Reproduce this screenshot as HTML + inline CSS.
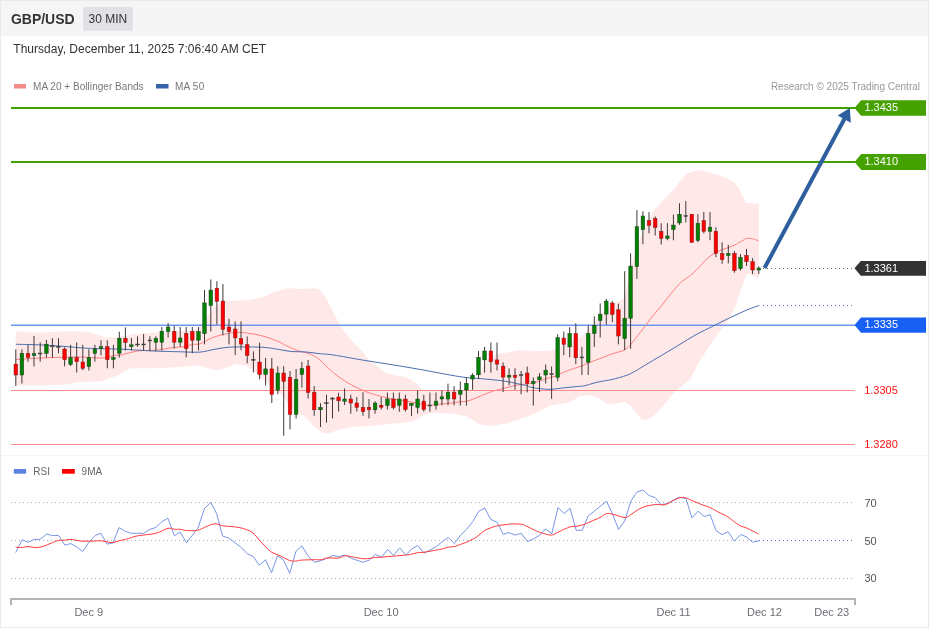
<!DOCTYPE html>
<html><head><meta charset="utf-8"><title>GBP/USD 30 MIN</title>
<style>html,body{margin:0;padding:0;background:#fff;width:929px;height:629px;overflow:hidden}svg{display:block;will-change:transform}</style>
</head><body>
<svg width="929" height="629" viewBox="0 0 929 629" font-family='"Liberation Sans", sans-serif'><rect x="0" y="0" width="929" height="629" fill="#ffffff"/><rect x="0" y="0" width="929" height="36" fill="#f5f5f6"/><rect x="83" y="7" width="50" height="23.6" fill="#dfe1e5"/><text x="10.9" y="24" font-size="14" font-weight="bold" fill="#333333">GBP/USD</text><text x="88.6" y="23" font-size="12" fill="#333333">30 MIN</text><text x="13.3" y="53" font-size="12" fill="#333333" textLength="252.8" lengthAdjust="spacing">Thursday, December 11, 2025 7:06:40 AM CET</text><rect x="14" y="84" width="12" height="4.5" fill="#f48a8a"/><text x="33" y="89.6" font-size="10" fill="#777777" textLength="110.6" lengthAdjust="spacing">MA 20 + Bollinger Bands</text><rect x="156" y="84" width="12.5" height="4.5" fill="#3565a8"/><text x="175" y="89.6" font-size="10" fill="#777777" textLength="29.2" lengthAdjust="spacing">MA 50</text><text x="920" y="90" font-size="10" fill="#999999" text-anchor="end">Research © 2025 Trading Central</text><polygon points="15.8,331.3 28.9,332.2 40.8,332.5 52.7,331.9 65.0,331.3 78.0,331.5 90.0,332.5 100.0,335.5 106.0,337.5 116.0,337.5 135.0,334.0 154.0,332.7 171.5,332.0 193.0,329.9 198.5,328.0 202.7,324.5 208.0,316.0 214.6,307.3 224.3,300.8 236.1,300.8 249.0,299.8 257.6,298.3 266.3,295.5 274.9,291.8 287.8,288.3 300.7,289.0 313.6,288.3 320.0,289.6 326.5,298.7 335.1,315.9 343.8,331.0 352.0,341.0 361.1,350.1 368.4,359.3 377.6,366.6 384.9,372.5 392.2,374.8 403.2,376.7 410.5,379.4 416.0,383.1 421.0,389.0 430.0,391.0 441.0,391.0 455.0,391.0 465.0,390.5 471.5,389.0 473.0,379.5 478.0,378.0 481.0,371.5 484.0,363.0 487.7,359.1 493.4,355.7 500.0,353.4 505.9,352.9 518.6,350.3 535.0,351.0 550.4,350.7 555.9,349.0 563.3,345.0 571.8,342.2 584.5,334.3 592.5,324.7 600.4,315.2 608.4,307.2 616.3,302.5 622.7,299.3 624.7,297.0 630.6,268.0 636.9,247.0 639.7,239.5 646.0,225.0 652.5,212.5 658.2,205.5 663.6,199.7 669.0,194.0 674.7,188.6 679.2,182.4 684.3,175.9 686.2,174.0 693.2,171.2 698.8,170.1 707.2,171.9 717.0,174.7 726.8,178.2 733.8,181.7 738.0,187.3 742.2,195.0 745.7,202.7 752.0,203.4 758.8,203.4 758.8,278.4 753.4,276.0 750.2,274.0 747.0,274.0 740.7,290.0 735.9,305.0 729.8,318.3 719.7,331.0 709.5,346.3 699.3,361.5 691.7,376.8 689.5,380.0 679.8,387.8 673.0,393.6 667.2,401.3 660.4,409.1 653.6,415.9 646.8,419.7 642.0,419.7 635.2,412.0 630.3,405.2 624.5,401.8 617.8,403.3 610.0,404.2 606.1,403.4 598.6,398.1 589.5,395.1 580.5,395.8 574.5,399.6 568.4,402.6 559.4,404.1 550.3,405.6 542.8,409.4 535.3,413.2 520.2,419.2 505.1,423.7 490.1,426.0 480.0,424.4 472.6,419.9 465.1,416.1 453.0,413.8 438.0,413.1 427.4,413.8 421.4,416.1 418.4,419.1 412.3,421.4 400.3,422.9 385.2,424.4 370.1,425.9 355.1,426.6 340.0,429.3 335.8,430.8 330.1,432.9 325.8,433.6 321.5,432.2 317.2,429.3 312.9,425.0 308.6,420.0 303.6,415.7 298.6,413.2 294.3,411.5 287.2,402.2 283.7,396.8 271.3,386.5 256.9,374.0 247.6,366.0 236.4,364.0 228.0,366.9 216.8,370.4 208.4,368.3 200.0,365.5 180.0,367.0 158.0,368.3 130.0,368.3 116.0,376.0 100.0,381.5 78.0,382.3 65.0,384.4 40.8,385.6 15.8,385.6" fill="#ffe8e8"/><line x1="11" y1="108" x2="855" y2="108" stroke="#40a000" stroke-width="2"/><line x1="11" y1="162" x2="855" y2="162" stroke="#40a000" stroke-width="2"/><line x1="11" y1="325.25" x2="855" y2="325.25" stroke="#6a96f5" stroke-width="1.5"/><line x1="11" y1="390.5" x2="855" y2="390.5" stroke="#ff8c8c" stroke-width="1"/><line x1="11" y1="444.5" x2="855" y2="444.5" stroke="#ff8c8c" stroke-width="1"/><path d="M15.8,359.5 C19.5,359.3 30.2,358.6 38.2,358.2 C46.2,357.8 56.6,357.4 63.6,357.2 C70.6,357.0 73.8,356.9 80.0,357.0 C86.2,357.1 95.4,358.2 101.0,358.0 C106.6,357.8 110.5,356.0 113.7,355.5 C116.9,355.0 116.0,355.9 120.0,355.2 C124.0,354.4 131.5,351.9 137.8,351.0 C144.1,350.1 152.3,350.6 158.0,350.0 C163.7,349.4 167.7,348.3 172.2,347.7 C176.7,347.1 181.6,347.1 185.0,346.5 C188.4,345.9 190.4,344.8 192.9,344.4 C195.4,343.9 196.9,344.8 200.0,343.8 C203.1,342.8 207.5,339.7 211.2,338.2 C214.9,336.7 218.2,335.7 222.4,334.7 C226.6,333.7 232.0,332.5 236.4,332.3 C240.8,332.1 244.6,332.7 249.0,333.3 C253.4,333.9 258.3,334.8 263.0,336.1 C267.7,337.4 273.0,339.4 277.0,341.0 C281.0,342.6 283.3,344.3 286.8,345.9 C290.3,347.5 294.3,349.5 298.0,350.8 C301.7,352.1 305.7,352.2 309.2,353.6 C312.7,355.0 314.8,356.0 318.9,359.2 C323.0,362.4 328.8,368.9 333.6,372.9 C338.4,376.8 343.1,380.0 347.9,382.9 C352.7,385.8 357.9,388.2 362.2,390.1 C366.5,392.0 369.9,393.2 373.7,394.4 C377.5,395.6 381.8,396.4 385.0,397.2 C388.2,398.0 389.3,398.4 392.7,399.0 C396.1,399.6 401.1,400.2 405.4,400.9 C409.6,401.6 414.4,402.7 418.2,403.4 C422.0,404.1 425.1,405.1 428.3,405.3 C431.5,405.5 433.6,404.7 437.2,404.3 C440.8,403.9 446.2,403.6 450.0,403.2 C453.8,402.8 457.1,402.2 460.0,401.8 C462.9,401.4 464.3,401.9 467.7,401.0 C471.1,400.1 476.1,397.8 480.4,396.1 C484.6,394.4 488.9,392.4 493.2,391.0 C497.4,389.6 501.7,388.9 505.9,387.9 C510.1,386.8 514.6,385.4 518.6,384.7 C522.6,384.0 526.6,384.3 530.0,383.7 C533.4,383.1 536.1,382.1 539.1,381.2 C542.1,380.2 545.5,378.9 548.3,378.0 C551.0,377.1 553.6,376.8 555.6,376.1 C557.6,375.4 558.4,374.7 560.2,373.9 C562.0,373.1 564.0,372.1 566.6,371.1 C569.2,370.1 573.3,368.7 575.7,367.9 C578.1,367.1 579.1,366.9 581.2,366.1 C583.4,365.3 586.2,363.9 588.6,362.9 C591.0,361.9 593.5,361.0 595.9,360.1 C598.3,359.2 600.9,358.3 603.2,357.4 C605.6,356.5 607.6,355.4 610.0,354.5 C612.4,353.6 615.2,353.1 617.6,352.3 C620.0,351.6 622.5,351.2 624.6,350.0 C626.7,348.8 628.6,346.8 630.4,344.9 C632.2,343.0 633.7,340.6 635.4,338.5 C637.1,336.4 638.7,334.5 640.5,332.2 C642.3,329.9 644.4,327.1 646.3,324.5 C648.2,321.9 649.7,319.8 652.0,316.9 C654.3,314.0 657.5,310.4 660.0,307.4 C662.5,304.4 664.9,301.3 666.7,299.0 C668.6,296.7 669.4,295.4 671.1,293.4 C672.8,291.4 674.8,288.8 676.7,286.8 C678.6,284.8 680.4,282.8 682.3,281.2 C684.1,279.6 685.9,278.7 687.8,277.3 C689.6,275.9 691.5,274.5 693.4,272.8 C695.3,271.1 697.1,269.2 699.0,267.3 C700.9,265.4 702.6,263.1 704.5,261.2 C706.4,259.3 708.1,257.7 710.1,256.2 C712.1,254.7 714.3,253.4 716.4,252.3 C718.5,251.2 720.6,250.3 722.7,249.5 C724.8,248.7 727.2,248.0 729.1,247.3 C731.0,246.6 732.6,246.1 734.2,245.3 C735.8,244.6 737.1,243.6 738.6,242.8 C740.1,242.0 741.8,241.0 743.1,240.3 C744.4,239.6 744.9,238.9 746.2,238.6 C747.5,238.3 749.3,238.3 750.7,238.4 C752.1,238.5 753.2,238.9 754.5,239.3 C755.8,239.7 757.9,240.6 758.6,240.9" fill="none" stroke="#ff8080" stroke-width="1"/><path d="M15.8,344.3 C19.5,344.4 30.8,344.5 38.2,344.8 C45.6,345.1 51.4,345.5 60.0,346.1 C68.7,346.7 80.0,347.9 90.1,348.4 C100.1,348.9 110.2,348.7 120.3,349.1 C130.3,349.5 140.3,350.4 150.4,350.9 C160.5,351.3 172.3,351.6 180.6,351.8 C188.9,352.0 194.4,352.5 200.0,352.1 C205.6,351.7 209.3,350.2 214.0,349.4 C218.7,348.6 223.3,347.7 228.0,347.3 C232.7,346.9 236.2,346.9 242.0,346.9 C247.8,346.9 257.2,346.9 263.0,347.3 C268.8,347.7 272.3,348.4 277.0,349.1 C281.7,349.8 286.3,351.0 291.0,351.5 C295.7,352.0 300.3,351.5 305.0,351.9 C309.7,352.2 314.2,353.1 319.0,353.6 C323.8,354.1 326.4,353.9 333.6,355.0 C340.8,356.1 353.6,358.6 362.2,360.0 C370.8,361.4 375.7,362.1 385.0,363.6 C394.3,365.1 405.7,366.9 418.2,369.1 C430.7,371.3 449.4,375.1 460.0,376.7 C470.6,378.3 474.3,378.0 481.5,378.7 C488.7,379.4 495.8,379.8 503.0,380.9 C510.2,382.0 520.1,384.2 524.6,385.2 C529.1,386.2 527.6,386.6 530.0,387.1 C532.4,387.7 535.6,388.1 539.1,388.5 C542.6,388.9 547.2,389.5 551.0,389.4 C554.8,389.3 557.9,388.4 562.0,388.0 C566.1,387.6 571.9,387.1 575.7,386.7 C579.5,386.3 581.9,386.3 584.9,385.7 C587.9,385.1 591.0,383.8 594.0,383.0 C597.0,382.2 600.2,381.6 603.2,381.0 C606.2,380.4 608.0,380.5 612.0,379.5 C616.0,378.5 623.2,376.6 627.2,375.1 C631.2,373.7 632.9,372.4 635.8,370.8 C638.7,369.2 640.1,368.2 644.4,365.6 C648.7,363.0 656.0,358.7 661.7,355.3 C667.5,351.9 673.2,348.4 678.9,345.0 C684.6,341.6 690.4,337.8 696.1,334.6 C701.8,331.4 707.5,328.9 713.3,326.0 C719.0,323.1 724.9,320.1 730.6,317.4 C736.4,314.7 743.0,311.6 747.8,309.6 C752.6,307.6 757.4,306.1 759.3,305.4" fill="none" stroke="#4a6fb0" stroke-width="1"/><line x1="15.8" y1="349.3" x2="15.8" y2="385.9" stroke="#403838" stroke-width="1"/><rect x="14.0" y="364.1" width="3.6" height="10.9" fill="#ff0000" stroke="#7a2020" stroke-width="0.5"/><line x1="21.9" y1="349.3" x2="21.9" y2="383.6" stroke="#403838" stroke-width="1"/><rect x="20.1" y="353.3" width="3.6" height="21.7" fill="#008000" stroke="#204020" stroke-width="0.5"/><line x1="28.0" y1="344.8" x2="28.0" y2="361.7" stroke="#403838" stroke-width="1"/><rect x="26.2" y="353.3" width="3.6" height="4.4" fill="#ff0000" stroke="#7a2020" stroke-width="0.5"/><line x1="34.0" y1="336.0" x2="34.0" y2="366.4" stroke="#403838" stroke-width="1"/><rect x="32.2" y="353.5" width="3.6" height="2.1" fill="#008000" stroke="#204020" stroke-width="0.5"/><line x1="40.2" y1="342.4" x2="40.2" y2="361.7" stroke="#403838" stroke-width="1"/><rect x="38.4" y="353.0" width="3.6" height="1.0" fill="#444444" stroke="#444444" stroke-width="0.5"/><line x1="46.4" y1="340.0" x2="46.4" y2="357.7" stroke="#403838" stroke-width="1"/><rect x="44.6" y="344.2" width="3.6" height="9.1" fill="#008000" stroke="#204020" stroke-width="0.5"/><line x1="52.4" y1="338.2" x2="52.4" y2="357.9" stroke="#403838" stroke-width="1"/><rect x="50.6" y="345.8" width="3.6" height="1.0" fill="#444444" stroke="#444444" stroke-width="0.5"/><line x1="58.5" y1="338.2" x2="58.5" y2="353.3" stroke="#403838" stroke-width="1"/><rect x="56.7" y="346.3" width="3.6" height="1.0" fill="#444444" stroke="#444444" stroke-width="0.5"/><line x1="64.6" y1="347.4" x2="64.6" y2="366.4" stroke="#403838" stroke-width="1"/><rect x="62.8" y="349.0" width="3.6" height="10.7" fill="#ff0000" stroke="#7a2020" stroke-width="0.5"/><line x1="70.6" y1="344.8" x2="70.6" y2="366.0" stroke="#403838" stroke-width="1"/><rect x="68.8" y="357.5" width="3.6" height="6.8" fill="#008000" stroke="#204020" stroke-width="0.5"/><line x1="76.7" y1="342.4" x2="76.7" y2="372.5" stroke="#403838" stroke-width="1"/><rect x="74.9" y="357.5" width="3.6" height="4.2" fill="#ff0000" stroke="#7a2020" stroke-width="0.5"/><line x1="82.8" y1="344.8" x2="82.8" y2="370.2" stroke="#403838" stroke-width="1"/><rect x="81.0" y="362.0" width="3.6" height="6.3" fill="#ff0000" stroke="#7a2020" stroke-width="0.5"/><line x1="88.9" y1="349.3" x2="88.9" y2="370.5" stroke="#403838" stroke-width="1"/><rect x="87.1" y="357.5" width="3.6" height="9.2" fill="#008000" stroke="#204020" stroke-width="0.5"/><line x1="94.9" y1="344.8" x2="94.9" y2="361.7" stroke="#403838" stroke-width="1"/><rect x="93.1" y="349.0" width="3.6" height="4.3" fill="#008000" stroke="#204020" stroke-width="0.5"/><line x1="101.0" y1="340.3" x2="101.0" y2="355.4" stroke="#403838" stroke-width="1"/><rect x="99.2" y="346.7" width="3.6" height="1.9" fill="#008000" stroke="#204020" stroke-width="0.5"/><line x1="107.3" y1="340.3" x2="107.3" y2="368.3" stroke="#403838" stroke-width="1"/><rect x="105.5" y="346.7" width="3.6" height="13.0" fill="#ff0000" stroke="#7a2020" stroke-width="0.5"/><line x1="113.4" y1="344.8" x2="113.4" y2="368.3" stroke="#403838" stroke-width="1"/><rect x="111.6" y="357.5" width="3.6" height="1.9" fill="#008000" stroke="#204020" stroke-width="0.5"/><line x1="119.3" y1="331.7" x2="119.3" y2="357.5" stroke="#403838" stroke-width="1"/><rect x="117.5" y="338.2" width="3.6" height="15.1" fill="#008000" stroke="#204020" stroke-width="0.5"/><line x1="125.4" y1="327.4" x2="125.4" y2="350.5" stroke="#403838" stroke-width="1"/><rect x="123.6" y="338.4" width="3.6" height="3.9" fill="#ff0000" stroke="#7a2020" stroke-width="0.5"/><line x1="131.4" y1="338.0" x2="131.4" y2="350.5" stroke="#403838" stroke-width="1"/><rect x="129.6" y="344.8" width="3.6" height="1.9" fill="#008000" stroke="#204020" stroke-width="0.5"/><line x1="137.5" y1="336.3" x2="137.5" y2="346.7" stroke="#403838" stroke-width="1"/><rect x="135.7" y="344.0" width="3.6" height="1.0" fill="#444444" stroke="#444444" stroke-width="0.5"/><line x1="143.6" y1="334.0" x2="143.6" y2="350.5" stroke="#403838" stroke-width="1"/><rect x="141.8" y="344.0" width="3.6" height="1.0" fill="#444444" stroke="#444444" stroke-width="0.5"/><line x1="149.9" y1="336.3" x2="149.9" y2="351.0" stroke="#403838" stroke-width="1"/><rect x="148.1" y="340.0" width="3.6" height="1.0" fill="#444444" stroke="#444444" stroke-width="0.5"/><line x1="155.9" y1="336.3" x2="155.9" y2="351.0" stroke="#403838" stroke-width="1"/><rect x="154.1" y="338.4" width="3.6" height="3.9" fill="#008000" stroke="#204020" stroke-width="0.5"/><line x1="161.8" y1="327.0" x2="161.8" y2="350.5" stroke="#403838" stroke-width="1"/><rect x="160.0" y="331.2" width="3.6" height="11.0" fill="#008000" stroke="#204020" stroke-width="0.5"/><line x1="168.1" y1="323.0" x2="168.1" y2="337.6" stroke="#403838" stroke-width="1"/><rect x="166.3" y="327.0" width="3.6" height="4.6" fill="#008000" stroke="#204020" stroke-width="0.5"/><line x1="174.2" y1="325.6" x2="174.2" y2="348.7" stroke="#403838" stroke-width="1"/><rect x="172.4" y="331.3" width="3.6" height="10.9" fill="#ff0000" stroke="#7a2020" stroke-width="0.5"/><line x1="180.2" y1="327.0" x2="180.2" y2="346.7" stroke="#403838" stroke-width="1"/><rect x="178.4" y="338.0" width="3.6" height="4.2" fill="#008000" stroke="#204020" stroke-width="0.5"/><line x1="186.2" y1="327.0" x2="186.2" y2="357.3" stroke="#403838" stroke-width="1"/><rect x="184.4" y="333.6" width="3.6" height="15.1" fill="#ff0000" stroke="#7a2020" stroke-width="0.5"/><line x1="192.3" y1="327.0" x2="192.3" y2="353.2" stroke="#403838" stroke-width="1"/><rect x="190.5" y="331.6" width="3.6" height="8.6" fill="#ff0000" stroke="#7a2020" stroke-width="0.5"/><line x1="198.5" y1="327.0" x2="198.5" y2="350.5" stroke="#403838" stroke-width="1"/><rect x="196.7" y="331.6" width="3.6" height="8.6" fill="#008000" stroke="#204020" stroke-width="0.5"/><line x1="204.5" y1="290.0" x2="204.5" y2="344.4" stroke="#403838" stroke-width="1"/><rect x="202.7" y="302.9" width="3.6" height="30.7" fill="#008000" stroke="#204020" stroke-width="0.5"/><line x1="210.8" y1="279.5" x2="210.8" y2="331.6" stroke="#403838" stroke-width="1"/><rect x="209.0" y="290.1" width="3.6" height="15.4" fill="#008000" stroke="#204020" stroke-width="0.5"/><line x1="216.9" y1="281.3" x2="216.9" y2="324.5" stroke="#403838" stroke-width="1"/><rect x="215.1" y="288.3" width="3.6" height="13.1" fill="#ff0000" stroke="#7a2020" stroke-width="0.5"/><line x1="222.9" y1="284.0" x2="222.9" y2="335.4" stroke="#403838" stroke-width="1"/><rect x="221.1" y="301.0" width="3.6" height="28.3" fill="#ff0000" stroke="#7a2020" stroke-width="0.5"/><line x1="229.0" y1="318.8" x2="229.0" y2="344.4" stroke="#403838" stroke-width="1"/><rect x="227.2" y="327.0" width="3.6" height="4.6" fill="#ff0000" stroke="#7a2020" stroke-width="0.5"/><line x1="235.2" y1="321.4" x2="235.2" y2="355.0" stroke="#403838" stroke-width="1"/><rect x="233.4" y="329.0" width="3.6" height="8.9" fill="#ff0000" stroke="#7a2020" stroke-width="0.5"/><line x1="241.0" y1="321.4" x2="241.0" y2="350.3" stroke="#403838" stroke-width="1"/><rect x="239.2" y="338.5" width="3.6" height="5.6" fill="#ff0000" stroke="#7a2020" stroke-width="0.5"/><line x1="247.2" y1="336.5" x2="247.2" y2="363.3" stroke="#403838" stroke-width="1"/><rect x="245.4" y="344.7" width="3.6" height="10.8" fill="#ff0000" stroke="#7a2020" stroke-width="0.5"/><line x1="253.4" y1="351.3" x2="253.4" y2="372.4" stroke="#403838" stroke-width="1"/><rect x="251.6" y="359.3" width="3.6" height="1.0" fill="#444444" stroke="#444444" stroke-width="0.5"/><line x1="259.6" y1="342.7" x2="259.6" y2="379.3" stroke="#403838" stroke-width="1"/><rect x="257.8" y="362.1" width="3.6" height="12.4" fill="#ff0000" stroke="#7a2020" stroke-width="0.5"/><line x1="265.6" y1="358.0" x2="265.6" y2="385.5" stroke="#403838" stroke-width="1"/><rect x="263.8" y="368.9" width="3.6" height="5.6" fill="#008000" stroke="#204020" stroke-width="0.5"/><line x1="271.8" y1="358.0" x2="271.8" y2="403.0" stroke="#403838" stroke-width="1"/><rect x="270.0" y="368.9" width="3.6" height="25.4" fill="#ff0000" stroke="#7a2020" stroke-width="0.5"/><line x1="277.8" y1="366.2" x2="277.8" y2="394.3" stroke="#403838" stroke-width="1"/><rect x="276.0" y="373.0" width="3.6" height="17.2" fill="#008000" stroke="#204020" stroke-width="0.5"/><line x1="283.7" y1="366.2" x2="283.7" y2="435.7" stroke="#403838" stroke-width="1"/><rect x="281.9" y="373.0" width="3.6" height="8.3" fill="#ff0000" stroke="#7a2020" stroke-width="0.5"/><line x1="290.0" y1="371.0" x2="290.0" y2="429.5" stroke="#403838" stroke-width="1"/><rect x="288.2" y="377.2" width="3.6" height="37.2" fill="#ff0000" stroke="#7a2020" stroke-width="0.5"/><line x1="296.1" y1="369.0" x2="296.1" y2="418.5" stroke="#403838" stroke-width="1"/><rect x="294.3" y="379.3" width="3.6" height="35.1" fill="#008000" stroke="#204020" stroke-width="0.5"/><line x1="301.9" y1="362.0" x2="301.9" y2="387.5" stroke="#403838" stroke-width="1"/><rect x="300.1" y="368.5" width="3.6" height="6.0" fill="#008000" stroke="#204020" stroke-width="0.5"/><line x1="308.1" y1="360.0" x2="308.1" y2="398.5" stroke="#403838" stroke-width="1"/><rect x="306.3" y="366.0" width="3.6" height="26.5" fill="#ff0000" stroke="#7a2020" stroke-width="0.5"/><line x1="314.2" y1="386.1" x2="314.2" y2="415.8" stroke="#403838" stroke-width="1"/><rect x="312.4" y="392.2" width="3.6" height="17.6" fill="#ff0000" stroke="#7a2020" stroke-width="0.5"/><line x1="320.5" y1="403.3" x2="320.5" y2="427.0" stroke="#403838" stroke-width="1"/><rect x="318.7" y="407.3" width="3.6" height="2.5" fill="#008000" stroke="#204020" stroke-width="0.5"/><line x1="326.5" y1="394.7" x2="326.5" y2="422.7" stroke="#403838" stroke-width="1"/><rect x="324.7" y="402.7" width="3.6" height="1.0" fill="#444444" stroke="#444444" stroke-width="0.5"/><line x1="332.5" y1="397.0" x2="332.5" y2="418.4" stroke="#403838" stroke-width="1"/><rect x="330.7" y="398.1" width="3.6" height="1.0" fill="#444444" stroke="#444444" stroke-width="0.5"/><line x1="338.6" y1="392.7" x2="338.6" y2="411.6" stroke="#403838" stroke-width="1"/><rect x="336.8" y="397.0" width="3.6" height="3.8" fill="#ff0000" stroke="#7a2020" stroke-width="0.5"/><line x1="344.6" y1="388.4" x2="344.6" y2="405.1" stroke="#403838" stroke-width="1"/><rect x="342.8" y="399.0" width="3.6" height="2.3" fill="#008000" stroke="#204020" stroke-width="0.5"/><line x1="350.8" y1="394.7" x2="350.8" y2="413.7" stroke="#403838" stroke-width="1"/><rect x="349.0" y="399.0" width="3.6" height="4.0" fill="#ff0000" stroke="#7a2020" stroke-width="0.5"/><line x1="356.8" y1="397.0" x2="356.8" y2="411.6" stroke="#403838" stroke-width="1"/><rect x="355.0" y="403.0" width="3.6" height="4.3" fill="#ff0000" stroke="#7a2020" stroke-width="0.5"/><line x1="363.0" y1="392.2" x2="363.0" y2="415.8" stroke="#403838" stroke-width="1"/><rect x="361.2" y="407.3" width="3.6" height="4.3" fill="#ff0000" stroke="#7a2020" stroke-width="0.5"/><line x1="369.0" y1="399.0" x2="369.0" y2="418.4" stroke="#403838" stroke-width="1"/><rect x="367.2" y="407.3" width="3.6" height="2.5" fill="#ff0000" stroke="#7a2020" stroke-width="0.5"/><line x1="375.1" y1="401.3" x2="375.1" y2="413.7" stroke="#403838" stroke-width="1"/><rect x="373.3" y="403.0" width="3.6" height="6.8" fill="#008000" stroke="#204020" stroke-width="0.5"/><line x1="381.2" y1="397.0" x2="381.2" y2="409.5" stroke="#403838" stroke-width="1"/><rect x="379.4" y="405.2" width="3.6" height="2.0" fill="#ff0000" stroke="#7a2020" stroke-width="0.5"/><line x1="387.4" y1="392.6" x2="387.4" y2="409.5" stroke="#403838" stroke-width="1"/><rect x="385.6" y="399.0" width="3.6" height="6.3" fill="#008000" stroke="#204020" stroke-width="0.5"/><line x1="393.4" y1="392.6" x2="393.4" y2="409.5" stroke="#403838" stroke-width="1"/><rect x="391.6" y="399.0" width="3.6" height="8.5" fill="#ff0000" stroke="#7a2020" stroke-width="0.5"/><line x1="399.3" y1="392.6" x2="399.3" y2="411.7" stroke="#403838" stroke-width="1"/><rect x="397.5" y="399.0" width="3.6" height="6.3" fill="#008000" stroke="#204020" stroke-width="0.5"/><line x1="405.4" y1="394.8" x2="405.4" y2="411.7" stroke="#403838" stroke-width="1"/><rect x="403.6" y="399.0" width="3.6" height="10.5" fill="#ff0000" stroke="#7a2020" stroke-width="0.5"/><line x1="411.5" y1="403.2" x2="411.5" y2="416.1" stroke="#403838" stroke-width="1"/><rect x="409.7" y="403.4" width="3.6" height="1.9" fill="#008000" stroke="#204020" stroke-width="0.5"/><line x1="417.6" y1="390.4" x2="417.6" y2="413.6" stroke="#403838" stroke-width="1"/><rect x="415.8" y="399.0" width="3.6" height="8.5" fill="#008000" stroke="#204020" stroke-width="0.5"/><line x1="423.8" y1="394.8" x2="423.8" y2="411.7" stroke="#403838" stroke-width="1"/><rect x="422.0" y="401.1" width="3.6" height="8.4" fill="#ff0000" stroke="#7a2020" stroke-width="0.5"/><line x1="429.9" y1="392.6" x2="429.9" y2="411.7" stroke="#403838" stroke-width="1"/><rect x="428.1" y="405.0" width="3.6" height="1.0" fill="#444444" stroke="#444444" stroke-width="0.5"/><line x1="436.0" y1="392.6" x2="436.0" y2="409.5" stroke="#403838" stroke-width="1"/><rect x="434.2" y="401.1" width="3.6" height="4.2" fill="#008000" stroke="#204020" stroke-width="0.5"/><line x1="441.9" y1="390.4" x2="441.9" y2="405.3" stroke="#403838" stroke-width="1"/><rect x="440.1" y="396.8" width="3.6" height="2.2" fill="#008000" stroke="#204020" stroke-width="0.5"/><line x1="448.0" y1="383.7" x2="448.0" y2="405.3" stroke="#403838" stroke-width="1"/><rect x="446.2" y="392.2" width="3.6" height="6.8" fill="#008000" stroke="#204020" stroke-width="0.5"/><line x1="454.1" y1="386.2" x2="454.1" y2="405.3" stroke="#403838" stroke-width="1"/><rect x="452.3" y="392.2" width="3.6" height="6.8" fill="#ff0000" stroke="#7a2020" stroke-width="0.5"/><line x1="460.3" y1="381.5" x2="460.3" y2="405.7" stroke="#403838" stroke-width="1"/><rect x="458.5" y="390.4" width="3.6" height="3.8" fill="#008000" stroke="#204020" stroke-width="0.5"/><line x1="466.4" y1="377.7" x2="466.4" y2="405.7" stroke="#403838" stroke-width="1"/><rect x="464.6" y="383.4" width="3.6" height="6.6" fill="#008000" stroke="#204020" stroke-width="0.5"/><line x1="472.6" y1="373.2" x2="472.6" y2="389.8" stroke="#403838" stroke-width="1"/><rect x="470.8" y="375.2" width="3.6" height="3.8" fill="#008000" stroke="#204020" stroke-width="0.5"/><line x1="478.5" y1="351.0" x2="478.5" y2="379.0" stroke="#403838" stroke-width="1"/><rect x="476.7" y="357.3" width="3.6" height="17.5" fill="#008000" stroke="#204020" stroke-width="0.5"/><line x1="484.6" y1="346.8" x2="484.6" y2="372.6" stroke="#403838" stroke-width="1"/><rect x="482.8" y="351.0" width="3.6" height="8.9" fill="#008000" stroke="#204020" stroke-width="0.5"/><line x1="490.9" y1="342.5" x2="490.9" y2="372.6" stroke="#403838" stroke-width="1"/><rect x="489.1" y="351.0" width="3.6" height="10.8" fill="#ff0000" stroke="#7a2020" stroke-width="0.5"/><line x1="497.0" y1="342.5" x2="497.0" y2="370.4" stroke="#403838" stroke-width="1"/><rect x="495.2" y="359.9" width="3.6" height="4.2" fill="#ff0000" stroke="#7a2020" stroke-width="0.5"/><line x1="503.1" y1="362.4" x2="503.1" y2="392.1" stroke="#403838" stroke-width="1"/><rect x="501.3" y="366.2" width="3.6" height="10.9" fill="#ff0000" stroke="#7a2020" stroke-width="0.5"/><line x1="509.1" y1="368.4" x2="509.1" y2="385.3" stroke="#403838" stroke-width="1"/><rect x="507.3" y="375.2" width="3.6" height="1.9" fill="#008000" stroke="#204020" stroke-width="0.5"/><line x1="515.0" y1="368.4" x2="515.0" y2="389.8" stroke="#403838" stroke-width="1"/><rect x="513.2" y="375.2" width="3.6" height="2.1" fill="#ff0000" stroke="#7a2020" stroke-width="0.5"/><line x1="521.1" y1="371.0" x2="521.1" y2="394.2" stroke="#403838" stroke-width="1"/><rect x="519.3" y="374.5" width="3.6" height="1.0" fill="#444444" stroke="#444444" stroke-width="0.5"/><line x1="527.2" y1="366.6" x2="527.2" y2="392.3" stroke="#403838" stroke-width="1"/><rect x="525.4" y="373.0" width="3.6" height="10.4" fill="#ff0000" stroke="#7a2020" stroke-width="0.5"/><line x1="533.3" y1="377.3" x2="533.3" y2="405.6" stroke="#403838" stroke-width="1"/><rect x="531.5" y="381.2" width="3.6" height="2.5" fill="#008000" stroke="#204020" stroke-width="0.5"/><line x1="539.5" y1="373.1" x2="539.5" y2="392.1" stroke="#403838" stroke-width="1"/><rect x="537.7" y="376.9" width="3.6" height="2.8" fill="#008000" stroke="#204020" stroke-width="0.5"/><line x1="545.7" y1="364.5" x2="545.7" y2="383.6" stroke="#403838" stroke-width="1"/><rect x="543.9" y="370.2" width="3.6" height="4.8" fill="#008000" stroke="#204020" stroke-width="0.5"/><line x1="551.6" y1="366.4" x2="551.6" y2="398.8" stroke="#403838" stroke-width="1"/><rect x="549.8" y="373.7" width="3.6" height="1.0" fill="#444444" stroke="#444444" stroke-width="0.5"/><line x1="557.7" y1="334.3" x2="557.7" y2="381.3" stroke="#403838" stroke-width="1"/><rect x="555.9" y="337.7" width="3.6" height="39.7" fill="#008000" stroke="#204020" stroke-width="0.5"/><line x1="563.8" y1="331.6" x2="563.8" y2="355.3" stroke="#403838" stroke-width="1"/><rect x="562.0" y="338.1" width="3.6" height="6.3" fill="#ff0000" stroke="#7a2020" stroke-width="0.5"/><line x1="569.7" y1="327.2" x2="569.7" y2="357.2" stroke="#403838" stroke-width="1"/><rect x="567.9" y="333.5" width="3.6" height="13.4" fill="#008000" stroke="#204020" stroke-width="0.5"/><line x1="575.8" y1="323.4" x2="575.8" y2="364.1" stroke="#403838" stroke-width="1"/><rect x="574.0" y="333.5" width="3.6" height="24.3" fill="#ff0000" stroke="#7a2020" stroke-width="0.5"/><line x1="581.9" y1="346.9" x2="581.9" y2="375.0" stroke="#403838" stroke-width="1"/><rect x="580.1" y="356.9" width="3.6" height="1.0" fill="#444444" stroke="#444444" stroke-width="0.5"/><line x1="588.2" y1="325.3" x2="588.2" y2="375.0" stroke="#403838" stroke-width="1"/><rect x="586.4" y="333.5" width="3.6" height="28.7" fill="#008000" stroke="#204020" stroke-width="0.5"/><line x1="594.3" y1="316.3" x2="594.3" y2="346.9" stroke="#403838" stroke-width="1"/><rect x="592.5" y="325.3" width="3.6" height="8.2" fill="#008000" stroke="#204020" stroke-width="0.5"/><line x1="600.2" y1="303.5" x2="600.2" y2="337.5" stroke="#403838" stroke-width="1"/><rect x="598.4" y="314.2" width="3.6" height="6.4" fill="#008000" stroke="#204020" stroke-width="0.5"/><line x1="606.3" y1="298.9" x2="606.3" y2="324.8" stroke="#403838" stroke-width="1"/><rect x="604.5" y="301.1" width="3.6" height="13.0" fill="#008000" stroke="#204020" stroke-width="0.5"/><line x1="612.3" y1="301.2" x2="612.3" y2="322.0" stroke="#403838" stroke-width="1"/><rect x="610.5" y="303.0" width="3.6" height="11.4" fill="#ff0000" stroke="#7a2020" stroke-width="0.5"/><line x1="618.4" y1="303.7" x2="618.4" y2="344.4" stroke="#403838" stroke-width="1"/><rect x="616.6" y="309.8" width="3.6" height="26.2" fill="#ff0000" stroke="#7a2020" stroke-width="0.5"/><line x1="624.7" y1="271.2" x2="624.7" y2="350.0" stroke="#403838" stroke-width="1"/><rect x="622.9" y="318.2" width="3.6" height="20.4" fill="#008000" stroke="#204020" stroke-width="0.5"/><line x1="630.6" y1="253.4" x2="630.6" y2="348.7" stroke="#403838" stroke-width="1"/><rect x="628.8" y="266.1" width="3.6" height="52.1" fill="#008000" stroke="#204020" stroke-width="0.5"/><line x1="636.9" y1="210.1" x2="636.9" y2="278.8" stroke="#403838" stroke-width="1"/><rect x="635.1" y="226.7" width="3.6" height="39.9" fill="#008000" stroke="#204020" stroke-width="0.5"/><line x1="642.9" y1="211.4" x2="642.9" y2="244.3" stroke="#403838" stroke-width="1"/><rect x="641.1" y="216.0" width="3.6" height="13.6" fill="#008000" stroke="#204020" stroke-width="0.5"/><line x1="649.0" y1="212.1" x2="649.0" y2="233.4" stroke="#403838" stroke-width="1"/><rect x="647.2" y="220.5" width="3.6" height="4.8" fill="#ff0000" stroke="#7a2020" stroke-width="0.5"/><line x1="655.2" y1="216.4" x2="655.2" y2="235.5" stroke="#403838" stroke-width="1"/><rect x="653.4" y="218.5" width="3.6" height="9.1" fill="#ff0000" stroke="#7a2020" stroke-width="0.5"/><line x1="661.2" y1="223.2" x2="661.2" y2="244.5" stroke="#403838" stroke-width="1"/><rect x="659.4" y="231.4" width="3.6" height="7.0" fill="#ff0000" stroke="#7a2020" stroke-width="0.5"/><line x1="667.4" y1="223.2" x2="667.4" y2="240.3" stroke="#403838" stroke-width="1"/><rect x="665.6" y="236.0" width="3.6" height="2.4" fill="#008000" stroke="#204020" stroke-width="0.5"/><line x1="673.4" y1="214.6" x2="673.4" y2="240.3" stroke="#403838" stroke-width="1"/><rect x="671.6" y="225.1" width="3.6" height="4.4" fill="#008000" stroke="#204020" stroke-width="0.5"/><line x1="679.5" y1="203.3" x2="679.5" y2="224.8" stroke="#403838" stroke-width="1"/><rect x="677.7" y="214.3" width="3.6" height="8.6" fill="#008000" stroke="#204020" stroke-width="0.5"/><line x1="685.8" y1="201.1" x2="685.8" y2="222.4" stroke="#403838" stroke-width="1"/><rect x="684.0" y="215.5" width="3.6" height="1.0" fill="#444444" stroke="#444444" stroke-width="0.5"/><line x1="691.8" y1="214.2" x2="691.8" y2="242.5" stroke="#403838" stroke-width="1"/><rect x="690.0" y="214.2" width="3.6" height="28.2" fill="#ff0000" stroke="#7a2020" stroke-width="0.5"/><line x1="697.9" y1="214.2" x2="697.9" y2="242.3" stroke="#403838" stroke-width="1"/><rect x="696.1" y="223.2" width="3.6" height="17.3" fill="#008000" stroke="#204020" stroke-width="0.5"/><line x1="703.8" y1="212.1" x2="703.8" y2="233.4" stroke="#403838" stroke-width="1"/><rect x="702.0" y="220.6" width="3.6" height="10.7" fill="#ff0000" stroke="#7a2020" stroke-width="0.5"/><line x1="710.0" y1="212.1" x2="710.0" y2="240.2" stroke="#403838" stroke-width="1"/><rect x="708.2" y="227.2" width="3.6" height="4.1" fill="#008000" stroke="#204020" stroke-width="0.5"/><line x1="715.9" y1="227.2" x2="715.9" y2="257.2" stroke="#403838" stroke-width="1"/><rect x="714.1" y="231.3" width="3.6" height="22.2" fill="#ff0000" stroke="#7a2020" stroke-width="0.5"/><line x1="722.1" y1="242.3" x2="722.1" y2="263.8" stroke="#403838" stroke-width="1"/><rect x="720.3" y="253.5" width="3.6" height="6.2" fill="#ff0000" stroke="#7a2020" stroke-width="0.5"/><line x1="728.3" y1="244.8" x2="728.3" y2="263.4" stroke="#403838" stroke-width="1"/><rect x="726.5" y="253.5" width="3.6" height="2.0" fill="#008000" stroke="#204020" stroke-width="0.5"/><line x1="734.4" y1="251.0" x2="734.4" y2="272.7" stroke="#403838" stroke-width="1"/><rect x="732.6" y="253.5" width="3.6" height="17.1" fill="#ff0000" stroke="#7a2020" stroke-width="0.5"/><line x1="740.5" y1="254.1" x2="740.5" y2="270.6" stroke="#403838" stroke-width="1"/><rect x="738.7" y="257.6" width="3.6" height="11.0" fill="#008000" stroke="#204020" stroke-width="0.5"/><line x1="746.5" y1="248.9" x2="746.5" y2="265.9" stroke="#403838" stroke-width="1"/><rect x="744.7" y="255.5" width="3.6" height="6.2" fill="#ff0000" stroke="#7a2020" stroke-width="0.5"/><line x1="752.6" y1="258.2" x2="752.6" y2="274.1" stroke="#403838" stroke-width="1"/><rect x="750.8" y="261.7" width="3.6" height="8.3" fill="#ff0000" stroke="#7a2020" stroke-width="0.5"/><line x1="758.8" y1="266.5" x2="758.8" y2="274.1" stroke="#403838" stroke-width="1"/><rect x="757.0" y="268.0" width="3.6" height="2.0" fill="#008000" stroke="#204020" stroke-width="0.5"/><line x1="763" y1="268.5" x2="853" y2="268.5" stroke="#6a6a6a" stroke-width="1.1" stroke-dasharray="1,3"/><line x1="763" y1="305.5" x2="854" y2="305.5" stroke="#5a78b8" stroke-width="1.1" stroke-dasharray="1,3"/><line x1="764.5" y1="268" x2="846" y2="116" stroke="#2d5f9e" stroke-width="4"/><polygon points="849.8,108 837.7,115.5 850.8,122.7" fill="#2d5f9e"/><polygon points="854.5,107.95 861.09,100.20 926,100.20 926,115.70 861.09,115.70" fill="#45a100"/><text x="864.4" y="111.2" font-size="11" fill="#ffffff">1.3435</text><polygon points="854.5,162.05 861.30,154.05 926,154.05 926,170.05 861.30,170.05" fill="#45a100"/><text x="864.4" y="165.2" font-size="11" fill="#ffffff">1.3410</text><polygon points="854.5,268.3 860.79,260.90 926,260.90 926,275.70 860.79,275.70" fill="#333333"/><text x="864.4" y="271.5" font-size="11" fill="#ffffff">1.3361</text><polygon points="854.5,325.1 861.04,317.40 926,317.40 926,332.80 861.04,332.80" fill="#185ff4"/><text x="864.4" y="328.3" font-size="11" fill="#ffffff">1.3335</text><text x="864.2" y="394" font-size="11" fill="#ff1010">1.3305</text><text x="864.2" y="448" font-size="11" fill="#ff1010">1.3280</text><line x1="1" y1="455.5" x2="928" y2="455.5" stroke="#f0f2f4" stroke-width="1" stroke-dasharray="5,1"/><rect x="13.8" y="469" width="12.3" height="4.7" fill="#5b82e0"/><text x="33.3" y="475" font-size="10" fill="#666666">RSI</text><rect x="62" y="469" width="12.8" height="4.7" fill="#ff0000"/><text x="81.6" y="475" font-size="10" fill="#666666">9MA</text><line x1="11" y1="502.5" x2="853" y2="502.5" stroke="#aaaaaa" stroke-width="1" stroke-dasharray="1,3"/><line x1="11" y1="540.5" x2="853" y2="540.5" stroke="#aaaaaa" stroke-width="1" stroke-dasharray="1,3"/><line x1="11" y1="578.5" x2="853" y2="578.5" stroke="#aaaaaa" stroke-width="1" stroke-dasharray="1,3"/><line x1="759" y1="540.5" x2="853" y2="540.5" stroke="#5b72d0" stroke-width="1" stroke-dasharray="1,3"/><polyline points="15.7,552.5 22.2,539.8 27.9,542.2 34.3,539.4 40.0,539.4 46.5,534.1 52.6,535.5 58.6,535.5 64.8,545.1 70.8,543.6 77.0,547.2 82.7,551.5 89.0,542.2 95.1,535.5 100.8,533.2 107.0,544.1 113.0,542.9 119.0,527.6 125.2,531.2 130.7,533.3 137.9,533.3 143.6,533.3 150.0,529.3 155.8,527.5 162.2,521.5 167.9,518.2 174.4,535.8 180.1,531.9 186.5,542.9 192.2,535.5 198.0,527.9 204.4,508.6 210.8,502.4 216.6,513.6 222.6,536.1 228.7,537.9 235.2,542.9 240.9,547.2 247.2,553.7 253.2,556.5 259.3,565.1 265.5,559.8 271.5,572.7 277.5,555.8 283.6,560.1 289.8,573.3 295.8,551.5 301.8,545.8 308.4,556.5 314.4,562.2 320.4,560.8 326.6,558.4 332.7,555.5 338.7,556.5 345.2,555.1 351.3,558.4 357.3,560.4 362.9,562.2 369.3,560.1 375.3,554.4 381.5,557.2 387.6,549.4 393.6,555.5 399.6,547.9 405.8,555.1 411.9,548.9 417.7,545.5 424.0,553.2 430.1,550.1 436.3,546.5 442.3,541.5 448.3,537.5 454.4,543.6 460.6,535.1 466.6,529.3 472.9,521.5 478.6,511.5 484.6,507.9 490.7,519.3 496.9,522.2 503.2,534.3 508.9,532.6 515.1,535.1 521.2,533.2 527.5,541.5 533.7,538.9 539.8,535.1 545.5,528.9 551.8,533.6 558.0,507.5 564.1,513.6 570.1,508.3 576.2,530.3 582.3,530.3 588.1,516.1 594.3,511.2 600.5,506.0 606.5,501.2 612.5,514.0 618.6,529.4 624.8,520.8 630.8,501.2 636.8,492.2 642.9,490.0 649.1,495.5 655.1,497.5 661.1,504.6 667.3,503.6 673.4,500.0 679.4,497.2 685.9,498.6 692.0,517.9 698.1,511.2 704.3,516.5 710.0,514.6 716.2,530.8 722.2,534.6 728.2,531.8 734.3,541.2 740.8,534.4 746.5,536.9 752.5,542.2 759.4,540.8" fill="none" stroke="#7895e8" stroke-width="1"/><path d="M15.7,547.2 C16.8,547.2 20.2,547.6 22.2,547.5 C24.2,547.4 25.9,546.5 27.9,546.5 C29.9,546.5 32.3,547.4 34.3,547.5 C36.3,547.6 38.0,547.6 40.0,547.2 C42.0,546.8 44.4,545.9 46.5,545.1 C48.6,544.3 50.6,543.4 52.6,542.6 C54.6,541.8 56.6,540.8 58.6,540.4 C60.6,540.0 62.8,540.3 64.8,540.1 C66.8,539.9 68.8,539.4 70.8,539.4 C72.8,539.4 75.0,540.1 77.0,540.4 C79.0,540.7 80.7,541.1 82.7,541.2 C84.7,541.3 86.9,541.2 89.0,541.2 C91.1,541.2 93.1,541.0 95.1,540.9 C97.1,540.8 98.8,540.6 100.8,540.8 C102.8,540.9 105.0,541.5 107.0,541.8 C109.0,542.1 111.0,542.8 113.0,542.6 C115.0,542.4 117.0,541.3 119.0,540.8 C121.0,540.3 123.4,539.9 125.2,539.4 C127.0,538.9 127.9,538.6 130.0,538.0 C132.1,537.4 133.6,536.6 137.9,535.8 C142.2,535.0 150.8,534.5 155.8,533.3 C160.8,532.0 164.8,529.0 167.9,528.3 C171.0,527.6 172.4,529.1 174.4,529.3 C176.4,529.5 178.1,529.1 180.1,529.3 C182.1,529.5 183.8,530.3 186.5,530.5 C189.2,530.7 193.5,531.0 196.5,530.5 C199.5,530.0 202.0,528.5 204.4,527.5 C206.8,526.5 208.8,525.2 210.8,524.6 C212.8,524.0 214.6,523.7 216.6,523.9 C218.6,524.1 220.2,525.4 222.6,525.8 C225.0,526.2 228.1,526.2 230.9,526.5 C233.7,526.8 236.9,527.1 239.4,527.6 C241.9,528.1 243.4,528.4 245.7,529.3 C247.9,530.2 250.5,531.0 252.9,532.9 C255.3,534.8 257.9,538.5 260.0,540.8 C262.1,543.1 263.9,545.0 265.8,546.9 C267.7,548.8 269.1,550.7 271.5,552.2 C273.9,553.7 277.0,554.4 280.0,555.8 C283.0,557.2 286.8,559.5 289.4,560.4 C292.0,561.3 293.8,561.1 295.8,561.1 C297.8,561.1 298.4,560.3 301.5,560.1 C304.6,559.9 311.1,559.8 314.4,559.7 C317.7,559.6 319.4,560.0 321.5,559.7 C323.6,559.4 324.4,558.3 327.3,558.0 C330.2,557.7 335.7,558.4 338.7,558.0 C341.7,557.6 342.8,556.0 345.2,555.8 C347.6,555.6 350.1,556.5 353.0,557.0 C355.9,557.5 360.2,558.5 362.9,558.7 C365.6,558.9 367.2,558.6 369.3,558.4 C371.4,558.2 372.9,557.7 375.3,557.5 C377.7,557.3 380.6,557.2 383.6,557.0 C386.7,556.8 389.9,556.4 393.6,556.1 C397.3,555.8 402.8,555.4 405.8,555.1 C408.9,554.8 409.9,554.5 411.9,554.1 C413.9,553.7 415.7,553.0 417.7,552.7 C419.7,552.4 420.9,552.6 424.0,552.2 C427.1,551.8 433.2,550.7 436.3,550.1 C439.4,549.5 440.3,549.4 442.3,548.9 C444.3,548.4 446.3,547.6 448.3,547.2 C450.3,546.8 452.3,547.0 454.4,546.5 C456.4,546.0 458.6,545.1 460.6,544.4 C462.6,543.7 464.7,543.0 466.6,542.2 C468.6,541.4 470.5,540.4 472.3,539.4 C474.1,538.4 475.2,537.9 477.2,536.5 C479.2,535.1 481.9,532.3 484.3,530.8 C486.7,529.3 489.1,528.4 491.5,527.5 C493.9,526.6 496.2,526.0 498.6,525.5 C501.0,525.0 503.4,524.9 505.8,524.6 C508.2,524.3 510.3,524.0 512.9,523.9 C515.5,523.8 519.1,523.9 521.5,524.3 C523.9,524.7 525.1,525.5 527.2,526.5 C529.4,527.5 532.0,529.0 534.4,530.1 C536.8,531.2 538.6,532.1 541.5,532.9 C544.4,533.7 548.6,535.3 551.5,535.1 C554.4,534.9 555.6,533.2 558.7,531.8 C561.8,530.4 567.0,527.8 570.1,526.9 C573.2,526.0 574.9,526.5 577.3,526.1 C579.7,525.7 582.3,525.0 584.4,524.3 C586.5,523.6 587.4,522.9 590.0,521.8 C592.6,520.7 597.2,518.9 600.0,517.5 C602.8,516.1 604.4,514.1 606.5,513.6 C608.6,513.1 609.8,513.6 612.9,514.3 C616.0,514.9 622.1,517.5 625.1,517.5 C628.1,517.5 628.7,515.9 630.8,514.6 C632.9,513.3 635.5,511.2 637.9,509.8 C640.3,508.4 642.7,507.3 645.1,506.5 C647.5,505.7 650.1,505.4 652.2,505.0 C654.4,504.6 656.2,504.3 658.0,504.3 C659.8,504.3 661.3,505.1 663.0,505.0 C664.7,504.9 666.2,504.4 668.0,503.6 C669.8,502.8 671.8,501.2 673.7,500.3 C675.6,499.4 677.5,498.3 679.4,497.9 C681.3,497.4 683.0,497.1 685.1,497.6 C687.2,498.1 689.9,499.7 692.3,500.7 C694.7,501.7 697.3,502.8 699.4,503.6 C701.5,504.5 703.2,505.2 705.0,505.8 C706.8,506.4 707.9,506.5 710.0,507.5 C712.1,508.5 714.9,510.2 717.9,511.8 C720.9,513.4 725.2,515.2 727.9,516.9 C730.6,518.6 732.1,520.3 734.3,521.8 C736.4,523.3 738.8,525.1 740.8,526.1 C742.8,527.1 744.6,527.1 746.5,527.9 C748.4,528.7 750.2,529.8 752.2,530.8 C754.2,531.8 757.6,533.5 758.7,534.1" fill="none" stroke="#ff3b3b" stroke-width="1"/><text x="864.5" y="506.5" font-size="11" fill="#555555">70</text><text x="864.5" y="544.5" font-size="11" fill="#555555">50</text><text x="864.5" y="582.3" font-size="11" fill="#555555">30</text><path d="M11,605 L11,599 L855,599 L855,605" fill="none" stroke="#b4b4b8" stroke-width="2"/><text x="88.8" y="615.5" font-size="11" fill="#6c6c74" text-anchor="middle">Dec 9</text><text x="381.1" y="615.5" font-size="11" fill="#6c6c74" text-anchor="middle">Dec 10</text><text x="673.5" y="615.5" font-size="11" fill="#6c6c74" text-anchor="middle">Dec 11</text><text x="764.5" y="615.5" font-size="11" fill="#6c6c74" text-anchor="middle">Dec 12</text><text x="831.7" y="615.5" font-size="11" fill="#6c6c74" text-anchor="middle">Dec 23</text><rect x="0.5" y="0.5" width="928" height="627" fill="none" stroke="#e6eaee" stroke-width="1"/></svg>
</body></html>
